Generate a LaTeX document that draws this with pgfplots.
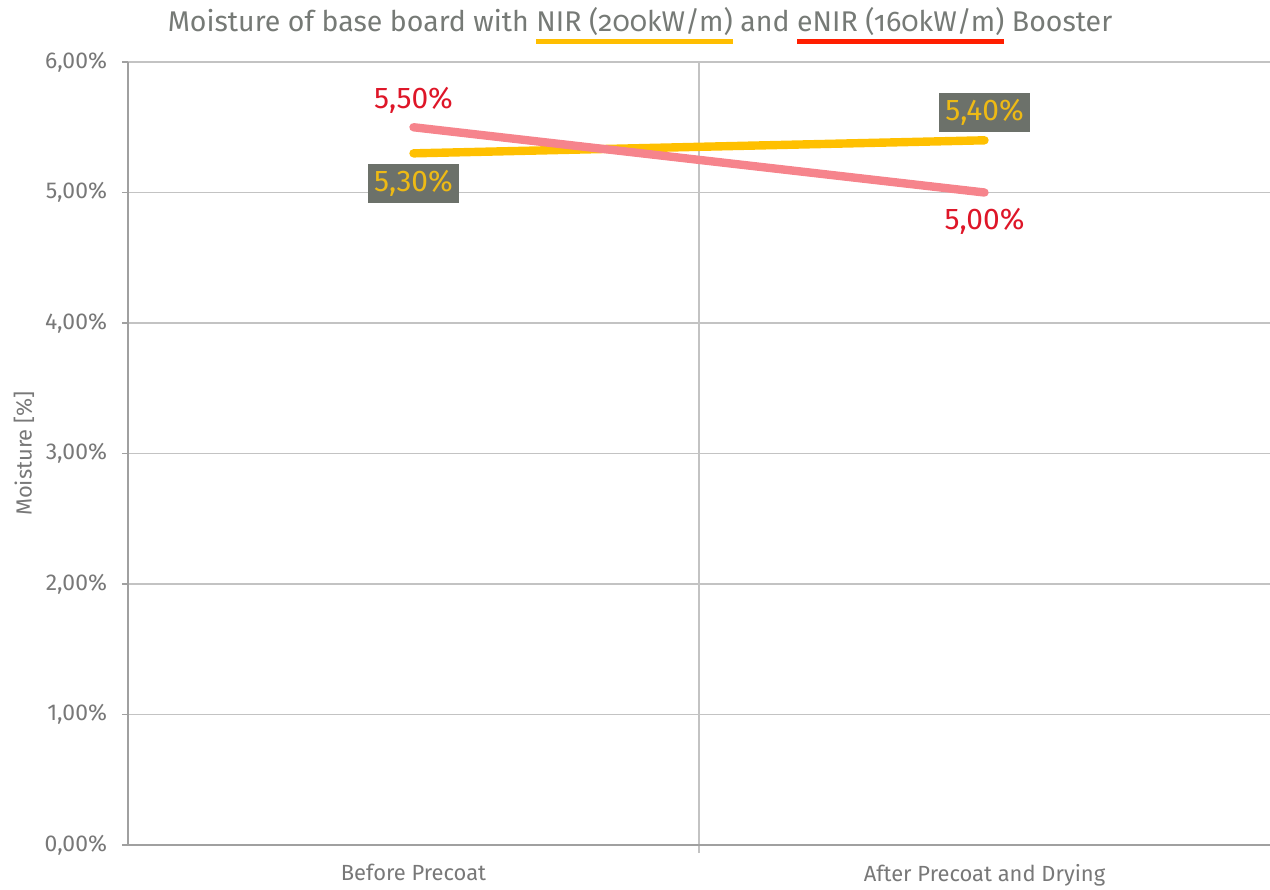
\documentclass[border=0pt]{standalone}
\usepackage{pgfplots}
\pgfplotsset{compat=1.18}
\usepackage{fontspec}
\setmainfont{Fira Sans}
\definecolor{titlegray}{RGB}{118,122,118}
\definecolor{tickgray}{RGB}{120,120,120}
\definecolor{gridgray}{RGB}{195,195,195}
\definecolor{axisgray}{RGB}{160,160,160}
\definecolor{nirY}{RGB}{255,192,0}
\definecolor{enirP}{RGB}{246,132,140}
\definecolor{labred}{RGB}{222,22,40}
\definecolor{boxgray}{RGB}{108,113,106}
\definecolor{boxtext}{RGB}{238,186,20}
\definecolor{ulY}{RGB}{255,190,0}
\definecolor{ulR}{RGB}{255,30,0}
\newcommand\ul[2]{\setbox0\hbox{#2}\rlap{\color{#1}\rule[-6bp]{\wd0}{2.5bp}}\box0\relax}
\begin{document}
\begin{tikzpicture}
\useasboundingbox (-64bp,-22.5bp) rectangle (571bp,422.5bp);
\begin{axis}[
  at={(0,0)}, anchor=south west,
  scale only axis, width=571bp, height=391.5bp,
  xmin=-0.5, xmax=1.5, ymin=0, ymax=6,
  axis lines=left, axis line style={-, draw=axisgray, line width=0.8bp},
  xtick={0,1}, xticklabels={Before Precoat, After Precoat and Drying},
  minor xtick={0.5}, xminorgrids=true,
  ytick={0,1,2,3,4,5,6}, ymajorgrids=true,
  grid style={draw=gridgray, line width=0.7bp},
  minor grid style={draw=gridgray, line width=0.7bp},
  tick align=outside,
  x tick style={draw=none},
  minor x tick style={draw=gridgray, line width=0.7bp},
  minor tick length=4bp,
  y tick style={draw=axisgray, line width=0.7bp},
  major tick length=3bp,
  /pgf/number format/assume math mode=true,
  yticklabel={\pgfmathprintnumber[fixed,fixed zerofill,precision=2,use comma]{\tick}\%},
  yticklabel style={font=\fontsize{11.5}{13}\selectfont, text=tickgray, xshift=-4bp},
  xticklabel style={font=\fontsize{11}{13}\selectfont, text=tickgray, yshift=-3bp},
  ylabel={Moisture [\%]},
  every axis y label/.style={at={(-52bp,195.75bp)}, rotate=90, anchor=center, text=tickgray, font=\fontsize{11}{13}\selectfont},
  clip=false,
]
\addplot[nirY, line width=4.2bp, line cap=round] coordinates {(0,5.3) (1,5.4)};
\addplot[enirP, line width=4.2bp, line cap=round] coordinates {(0,5.5) (1,5.0)};
% labels
\addplot[draw=none, nodes near coords={\pgfmathprintnumber[fixed,fixed zerofill,precision=2,use comma]{\pgfplotspointmeta}\%},
  every node near coord/.style={anchor=center, yshift=-15bp, fill=boxgray, text=boxtext, minimum width=45.5bp, minimum height=19.5bp, inner sep=0pt, font=\fontsize{15}{17}\selectfont}]
  coordinates {(0,5.3)};
\addplot[draw=none, nodes near coords={\pgfmathprintnumber[fixed,fixed zerofill,precision=2,use comma]{\pgfplotspointmeta}\%},
  every node near coord/.style={anchor=center, yshift=14bp, fill=boxgray, text=boxtext, minimum width=45.5bp, minimum height=19.5bp, inner sep=0pt, font=\fontsize{15}{17}\selectfont}]
  coordinates {(1,5.4)};
\addplot[draw=none, nodes near coords={\pgfmathprintnumber[fixed,fixed zerofill,precision=2,use comma]{\pgfplotspointmeta}\%},
  every node near coord/.style={anchor=center, yshift=13.5bp, text=labred, inner sep=0pt, font=\fontsize{15}{17}\selectfont}]
  coordinates {(0,5.5)};
\addplot[draw=none, nodes near coords={\pgfmathprintnumber[fixed,fixed zerofill,precision=2,use comma]{\pgfplotspointmeta}\%},
  every node near coord/.style={anchor=center, yshift=-14.5bp, text=labred, inner sep=0pt, font=\fontsize{15}{17}\selectfont}]
  coordinates {(1,5.0)};
\end{axis}
\node[anchor=base, text=titlegray, font=\fontsize{14.3}{17}\selectfont\addfontfeatures{Numbers=OldStyle}, inner sep=0pt]
  at (256bp,406.5bp) {Moisture of base board with \ul{ulY}{NIR (200kW/m)} and \ul{ulR}{eNIR (160kW/m)} Booster};
\end{tikzpicture}
\end{document}
